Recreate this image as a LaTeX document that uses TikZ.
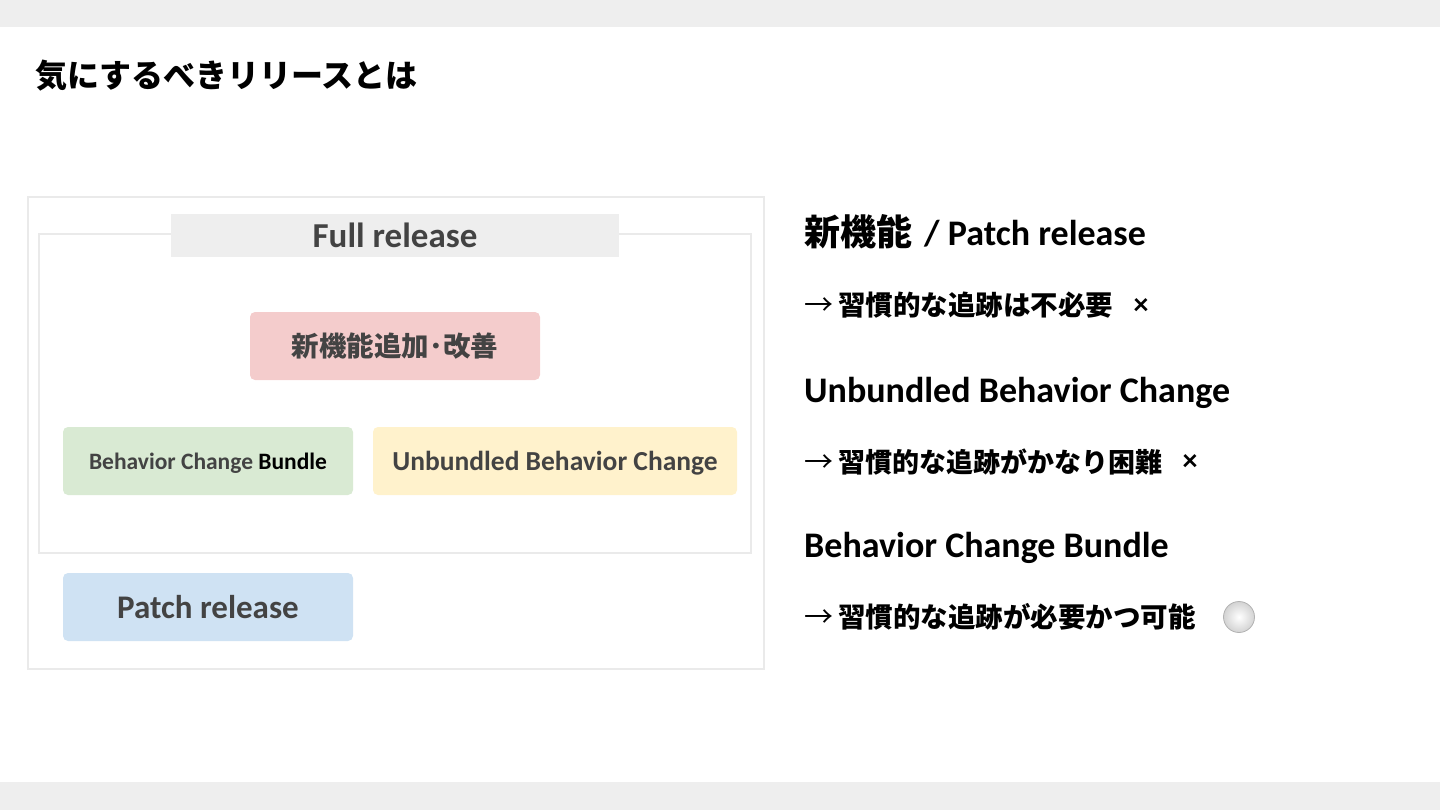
\documentclass[tikz,border=0pt]{standalone}
\usepackage{fontspec}
\setmainfont{Carlito}
\newfontfamily\cjk{Noto Sans CJK JP}
\definecolor{bar}{HTML}{EEEEEE}
\definecolor{framegray}{HTML}{EAEAEA}
\definecolor{txt}{HTML}{434343}
\definecolor{boxpink}{HTML}{F4CCCC}
\definecolor{boxgreen}{HTML}{D9EAD3}
\definecolor{boxyellow}{HTML}{FFF2CC}
\definecolor{boxblue}{HTML}{CFE2F3}
\begin{document}
\begin{tikzpicture}[x=1pt,y=-1pt,
  frame/.style={draw=framegray, line width=2.5pt, inner sep=0pt, rectangle},
  colbox/.style={rectangle, rounded corners=5pt, inner sep=0pt, minimum height=68pt, text=txt, font=\bfseries},
  head/.style={anchor=base west, inner sep=0pt, font=\bfseries\fontsize{36}{40}\selectfont},
  note/.style={anchor=west, inner sep=0pt, font=\fontsize{27.5}{32}\selectfont},
  cross/.style={anchor=center, inner sep=0pt, font=\bfseries\fontsize{30}{32}\selectfont}
]
\useasboundingbox (0,0) rectangle (1440,810);
\fill[bar] (0,0) rectangle (1440,27);
\fill[bar] (0,782) rectangle (1440,810);

\node[anchor=west, inner sep=0pt, font=\cjk\bfseries\fontsize{32}{36}\selectfont] (title) at (35,76) {気にするべきリリースとは};

\node[frame, minimum width=736pt, minimum height=472pt] (outer) at (396,433) {};
\node[frame, minimum width=712pt, minimum height=319pt] (inner) at (395,393.5) {};
\node[rectangle, fill=bar, inner sep=0pt, minimum width=448pt, minimum height=43pt, text=txt, font=\bfseries\fontsize{35}{38}\selectfont] (full) at (395,235.5) {Full release};

\node[colbox, fill=boxpink, minimum width=290pt] (feat) at (395,346) {\cjk\bfseries\fontsize{27.5}{30}\selectfont 新機能追加･改善};
\node[colbox, fill=boxgreen, minimum width=290pt, text depth=0pt, font=\bfseries\fontsize{23.5}{28}\selectfont] (bundle) at (208,461) {Behavior Change \textcolor{black}{Bundle}};
\node[colbox, fill=boxyellow, minimum width=364pt, text depth=0pt, font=\bfseries\fontsize{27.5}{30}\selectfont] (unb) at (555,461) {Unbundled Behavior Change};
\node[colbox, fill=boxblue, minimum width=290pt, text depth=1pt, font=\bfseries\fontsize{33}{36}\selectfont] (patch) at (208,607) {Patch release};

\node[head] (h1) at (804,246) {{\cjk\bfseries 新機能}\hspace{12pt}/ Patch release};
\node[note] (n1) at (804,305) {{\cjk\fontsize{29}{32}\selectfont →}\hspace{5pt}{\cjk\bfseries 習慣的な追跡は不必要}};
\node[cross] (x1) at (1141,307) {×};
\node[head] (h2) at (804,402) {Unbundled Behavior Change};
\node[note] (n2) at (804,462) {{\cjk\fontsize{29}{32}\selectfont →}\hspace{5pt}{\cjk\bfseries\fontsize{27}{32}\selectfont 習慣的な追跡がかなり困難}};
\node[cross] (x2) at (1190,463) {×};
\node[head] (h3) at (804,557) {Behavior Change Bundle};
\node[note] (n3) at (804,617) {{\cjk\fontsize{29}{32}\selectfont →}\hspace{5pt}{\cjk\bfseries 習慣的な追跡が必要かつ可能}};
\node[circle, draw=gray!60, line width=0.8pt, inner sep=0pt, minimum size=31pt, inner color=white, outer color=gray!35] (ok) at (1239,617) {};
\end{tikzpicture}
\end{document}
